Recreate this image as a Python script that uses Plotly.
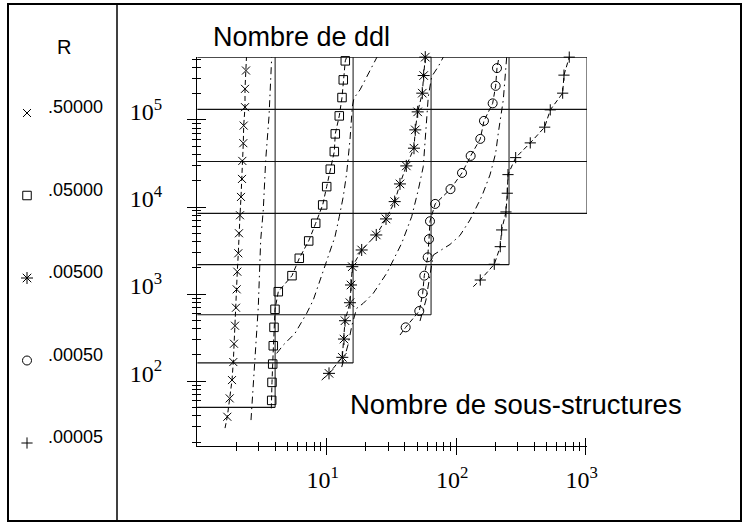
import math
import plotly.graph_objects as go

W, H = 749, 527

# ---------------- data ----------------
# mesh levels (ddl) and max number of sub-structures for each level (staircase)
LEVEL_DDL = [50, 162, 578, 2178, 8450, 33282, 132098, 526338]
LEVEL_MAX_SUB = [4, 16, 64, 256, 1024, 1024, 1024, 1024]

R_LABELS = [".50000", ".05000", ".00500", ".00050", ".00005"]

# R = .50000 (x)
SUB_R1 = [1.708, 1.782, 1.857, 1.900, 1.923, 1.958, 1.994, 2.018, 2.040, 2.077,
          2.102, 2.141, 2.179, 2.218, 2.230, 2.270, 2.286, 2.340, 2.340, 2.381]
DDL_R1 = [39.0, 63.4, 102.9, 165.7, 269, 433, 697, 1134, 1808, 2942,
          4995, 8041, 13050, 21010, 33840, 54100, 86100, 140200, 227500, 369300]
EXT_SUB_R1 = [1.640, 2.402]
EXT_DDL_R1 = [28.9, 526338]

# R = .05000 (square)
SUB_R2 = [3.761, 3.781, 3.828, 3.869, 3.918, 3.989, 4.229, 5.395, 6.143, 7.261,
          8.225, 9.314, 10.0, 10.66, 11.45, 11.65, 12.51, 13.13, 13.43, 13.92]
DDL_R2 = [60.15, 96.85, 157.2, 255, 415, 668.6, 1065, 1627, 2577, 4075,
          6509, 10560, 17140, 27180, 43290, 69160, 111300, 180700, 288600, 477300]
EXT_SUB_R2 = [3.735, 14.27]
EXT_DDL_R2 = [48.7, 526338]

# R = .00500 (asterisk)
SUB_R3 = [10.42, 13.20, 13.60, 13.85, 15.13, 15.41, 15.77, 18.63, 24.15, 28.71,
          33.5, 36.81, 41.19, 47.22, 48.32, 50.43, 54.73, 56.11, 57.72]
DDL_R3 = [122.9, 187.7, 304.5, 494.5, 796, 1272, 2064, 3211, 4775, 7295,
          11530, 18410, 29650, 47350, 76890, 123800, 203000, 323500, 526300]
EXT_SUB_R3 = [9.151, 57.72]
EXT_DDL_R3 = [102.9, 526300]

# R = .00050 (circle)
SUB_R4 = [40.74, 51.90, 55.12, 56.72, 60.25, 61.66, 62.77, 68.83, 90.36, 110.9,
          129.4, 153.5, 163.9, 191.3, 201.8, 206.6]
DDL_R4 = [415, 639, 1021, 1627, 2646, 4273, 6862, 10850, 16050, 24640,
          38630, 60580, 97540, 155000, 246300, 393500]
EXT_SUB_R4 = [36.81, 214.0]
EXT_DDL_R4 = [338.5, 526338]

# R = .00005 (plus)
SUB_R5 = [153.5, 196.9, 219.0, 224.5, 242.4, 248.1, 251.2, 288.1, 373.5, 482.4,
          532.9, 664.4, 679.9, 746.9]
DDL_R5 = [1451, 2199, 3504, 5452, 8777, 14400, 23550, 36920, 54500, 82580,
          130500, 203000, 326900, 526300]
EXT_SUB_R5 = [135.5, 746.9]
EXT_DDL_R5 = [1216, 526300]

# dash-dot curves
DD_SUB_1 = [2.603, 2.810, 2.964, 3.093, 3.238, 3.381, 3.585, 3.761]
DD_DDL_1 = [35.71, 190.7, 716, 4182, 9255, 34750, 109300, 526338]
DD_SUB_2 = [4.111, 4.623, 5.691, 7.008, 7.879, 8.877, 10.0, 11.59, 12.51, 13.43,
            14.27, 15.13, 15.77, 16.25, 18.08, 21.6, 24.45]
DD_DDL_2 = [208.6, 259.9, 354.2, 601.3, 855, 1451, 2464, 4565, 7749, 13160,
            24440, 58990, 142400, 177900, 221600, 376100, 526338]
DD_SUB_3 = [13.06, 14.6, 15.68, 17.05, 19.17, 22.9, 29.06, 32.69, 37.95, 45.33,
            50.97, 55.7, 58.46, 60.9, 64.7, 72.76, 79.53]
DD_DDL_3 = [145.2, 259.9, 441.1, 686.4, 783.4, 1021, 1733, 2464, 3833, 7749,
            15710, 29110, 70440, 185600, 315000, 410500, 526338]
DD_SUB_4 = [52.54, 58.46, 62.77, 66.57, 89.57, 107, 127.8, 157.4, 182.4, 201.8,
            211.4, 231.1, 245.5]
DD_DDL_4 = [490.5, 855, 1657, 2812, 3713, 4713, 7102, 13160, 23360, 41500,
            70440, 170000, 526338]

X_TICK_EXP = [1, 2, 3]
Y_TICK_EXP = [2, 3, 4, 5]

# ---------------- style ----------------
SYMBOLS = ["x-thin-open", "square-open", "asterisk-open", "circle-open", "cross-thin-open"]
SIZES = [8, 8.5, 10, 9, 8]
SERIES_DASH = "5px,3px"
DD_DASH = "7px,4px,1.5px,4px"
SANS = "Liberation Sans, Arial, sans-serif"
SERIF = "Liberation Serif, Times New Roman, serif"

X_RANGE = [0, math.log10(1024)]
Y_RANGE = [math.log10(18), math.log10(526338) + 0.0015]

fig = go.Figure()

# staircase
hx, hy = [], []
for ddl, ms in zip(LEVEL_DDL, LEVEL_MAX_SUB):
    hx += [1, ms, None]
    hy += [ddl, ddl, None]
vx, vy = [], []
top = max(LEVEL_DDL)
for ms in sorted(set(LEVEL_MAX_SUB)):
    low = min(d for d, m in zip(LEVEL_DDL, LEVEL_MAX_SUB) if m == ms)
    vx += [ms, ms, None]
    vy += [low, top, None]
fig.add_trace(go.Scatter(x=vx, y=vy, mode="lines", line=dict(color="#555", width=1.4),
                         hoverinfo="skip"))
fig.add_trace(go.Scatter(x=hx, y=hy, mode="lines", line=dict(color="#111", width=1.1),
                         hoverinfo="skip"))

# dash-dot curves
for sx, sy in [(DD_SUB_1, DD_DDL_1), (DD_SUB_2, DD_DDL_2), (DD_SUB_3, DD_DDL_3), (DD_SUB_4, DD_DDL_4)]:
    fig.add_trace(go.Scatter(x=sx, y=sy, mode="lines",
                             line=dict(color="black", width=1, dash=DD_DASH), hoverinfo="skip"))

series = [
    (SUB_R1, DDL_R1, EXT_SUB_R1, EXT_DDL_R1),
    (SUB_R2, DDL_R2, EXT_SUB_R2, EXT_DDL_R2),
    (SUB_R3, DDL_R3, EXT_SUB_R3, EXT_DDL_R3),
    (SUB_R4, DDL_R4, EXT_SUB_R4, EXT_DDL_R4),
    (SUB_R5, DDL_R5, EXT_SUB_R5, EXT_DDL_R5),
]
for i, (sx, sy, ex, ey) in enumerate(series):
    lx = [ex[0]] + sx + [ex[1]]
    ly = [ey[0]] + sy + [ey[1]]
    fig.add_trace(go.Scatter(x=lx, y=ly, mode="lines",
                             line=dict(color="black", width=1, dash=SERIES_DASH), hoverinfo="skip"))
    fig.add_trace(go.Scatter(x=sx, y=sy, mode="markers", cliponaxis=False,
                             marker=dict(symbol=SYMBOLS[i], size=SIZES[i], color="black",
                                         line=dict(color="black", width=1)),
                             name=R_LABELS[i]))

# legend symbols in the left panel (pixel axis)
LEG_X = 27
LEG_Y0 = 107
LEG_STEP = 82.5
for i in range(len(R_LABELS)):
    fig.add_trace(go.Scatter(x=[LEG_X], y=[LEG_Y0 + i * LEG_STEP + 6], mode="markers",
                             xaxis="x2", yaxis="y2",
                             marker=dict(symbol=SYMBOLS[i], size=SIZES[i], color="black",
                                         line=dict(color="black", width=1)),
                             hoverinfo="skip"))

# dummy for tick overlay axes
fig.add_trace(go.Scatter(x=[None], y=[None], xaxis="x3", yaxis="y3", hoverinfo="skip"))

def minor_vals(lo_exp, hi_exp, hi_limit):
    v = []
    for e in range(lo_exp, hi_exp + 1):
        for m in range(2, 10):
            val = m * 10 ** e
            if val <= hi_limit:
                v.append(val)
    return v

X_MAJOR = [10 ** e for e in X_TICK_EXP]
X_MINOR = minor_vals(0, 2, 1000)
Y_MAJOR = [10 ** e for e in Y_TICK_EXP]
Y_MINOR = minor_vals(1, 5, 526338)

XDOM = [197.2 / W, 587 / W]
YDOM = [1 - 446 / H, 1 - 57 / H]

def xax(side_ticks, labels, **kw):
    d = dict(type="log", range=X_RANGE, domain=XDOM, tickmode="array", tickvals=X_MAJOR,
             ticks=side_ticks, ticklen=8, tickwidth=1, tickcolor="black",
             showgrid=False, zeroline=False, automargin=False,
             minor=dict(tickmode="array", tickvals=X_MINOR, ticks=side_ticks, ticklen=4,
                        tickwidth=1, tickcolor="black", showgrid=False))
    if labels:
        d.update(showticklabels=True, ticktext=[f"10<sup>{e}</sup>" for e in X_TICK_EXP],
                 tickfont=dict(family=SERIF, size=24, color="black"),
                 ticklabelshift=-4, ticklabelstandoff=4)
    else:
        d.update(showticklabels=False)
    d.update(kw)
    return d

def yax(side_ticks, labels, **kw):
    d = dict(type="log", range=Y_RANGE, domain=YDOM, tickmode="array", tickvals=Y_MAJOR,
             ticks=side_ticks, ticklen=9, tickwidth=1, tickcolor="black",
             showgrid=False, zeroline=False, automargin=False,
             minor=dict(tickmode="array", tickvals=Y_MINOR, ticks=side_ticks, ticklen=4,
                        tickwidth=1, tickcolor="black", showgrid=False))
    if labels:
        d.update(showticklabels=True, ticktext=[f"10<sup>{e}</sup>" for e in Y_TICK_EXP],
                 tickfont=dict(family=SERIF, size=24, color="black"),
                 ticklabelshift=-8, ticklabelstandoff=20)
    else:
        d.update(showticklabels=False)
    d.update(kw)
    return d

annotations = []
annotations.append(dict(x=211 / W, y=1 - 37 / H, xref="paper", yref="paper",
                        text="Nombre de ddl", showarrow=False, xanchor="left", yanchor="middle",
                        font=dict(family=SANS, size=27, color="black")))
annotations.append(dict(x=348 / W, y=1 - 404 / H, xref="paper", yref="paper",
                        text="Nombre de sous-structures", showarrow=False, xanchor="left",
                        yanchor="middle", font=dict(family=SANS, size=27.5, color="black")))
annotations.append(dict(x=64 / W, y=1 - 47 / H, xref="paper", yref="paper", text="R",
                        showarrow=False, xanchor="center", yanchor="middle",
                        font=dict(family=SANS, size=20, color="black")))
for i, lab in enumerate(R_LABELS):
    annotations.append(dict(x=46 / W, y=1 - (LEG_Y0 + i * LEG_STEP) / H, xref="paper",
                            yref="paper", text=lab, showarrow=False, xanchor="left",
                            yanchor="middle", font=dict(family=SANS, size=18, color="black")))

shapes = [
    dict(type="rect", xref="paper", yref="paper", x0=8 / W, x1=741 / W, y0=1 - 521 / H,
         y1=1 - 4 / H, line=dict(color="black", width=2)),
    dict(type="line", xref="paper", yref="paper", x0=117 / W, x1=117 / W, y0=1 - 521 / H,
         y1=1 - 4 / H, line=dict(color="black", width=1.5)),
]

fig.update_layout(
    width=W, height=H, margin=dict(l=0, r=0, t=0, b=0, autoexpand=False),
    paper_bgcolor="white", plot_bgcolor="rgba(0,0,0,0)", showlegend=False,
    xaxis=xax("outside", True, anchor="y", showline=True, linecolor="black", linewidth=1),
    yaxis=yax("outside", True, anchor="x", showline=True, linecolor="black", linewidth=1.3),
    xaxis3=xax("inside", False, anchor="y3", overlaying="x", showline=False),
    yaxis3=yax("inside", False, anchor="x3", overlaying="y", showline=False),
    xaxis2=dict(domain=[0, 0.2], range=[0, 0.2 * W], visible=False, anchor="y2", automargin=False),
    yaxis2=dict(domain=[0, 1], range=[H, 0], visible=False, anchor="x2", automargin=False),
    annotations=annotations, shapes=shapes,
)

fig.write_html("out.html", config={"displayModeBar": False},
               post_script="document.body.style.margin='0px';")
